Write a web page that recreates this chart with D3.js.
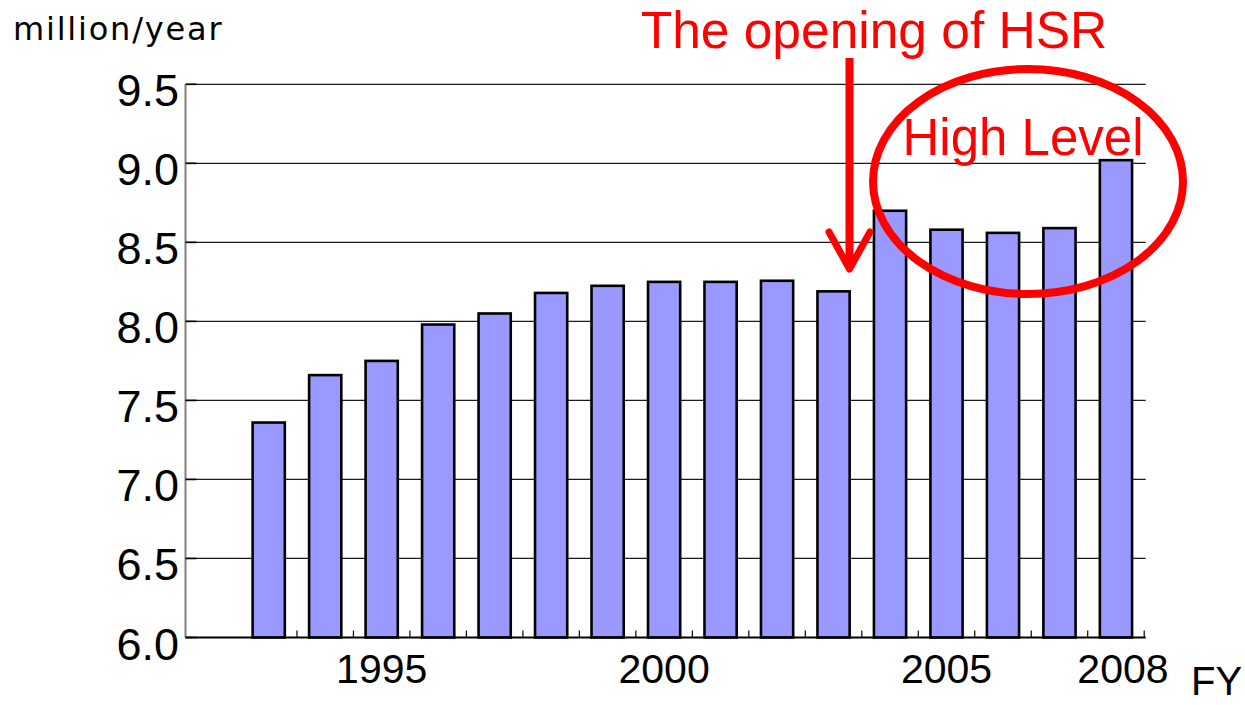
<!DOCTYPE html>
<html>
<head>
<meta charset="utf-8">
<script src="https://cdn.jsdelivr.net/npm/d3@7"></script>
<style>
  html, body { margin: 0; padding: 0; background: #fff; }
  svg { display: block; }
</style>
</head>
<body>
<script>
// ---- data ----
const years = [1993, 1994, 1995, 1996, 1997, 1998, 1999, 2000, 2001, 2002, 2003, 2004, 2005, 2006, 2007, 2008];
const passengers = [7.36, 7.66, 7.75, 7.98, 8.05, 8.18, 8.225, 8.25, 8.25, 8.257, 8.19, 8.70, 8.58, 8.56, 8.59, 9.02];
const yTicks = [6.0, 6.5, 7.0, 7.5, 8.0, 8.5, 9.0, 9.5];
const xLabelYears = [1995, 2000, 2005, 2008];
const yUnit = "million/year";
const xUnit = "FY";
const arrowText = "The opening of HSR";
const circleText = "High Level";

(function () {
const W = 1245, H = 705;
const pLeft = 185.5, pRight = 1145.7, pTop = 84.3, pBottom = 637.5;
const step = (pRight - pLeft) / 17;

const svg = d3.select("body").append("svg").attr("width", W).attr("height", H);

const y = d3.scaleLinear().domain([6, 9.5]).range([pBottom, pTop]);
const x = d3.scaleBand().domain(years).range([pLeft + step - 1.5, pRight - 1.5])
  .paddingInner(0.43).paddingOuter(0.215);

// gridlines
svg.append("g").selectAll("line").data(yTicks.filter(d => d > 6)).join("line")
  .attr("x1", pLeft).attr("x2", pRight)
  .attr("y1", d => y(d)).attr("y2", d => y(d))
  .attr("stroke", "#1a1a1a").attr("stroke-width", 1.2);

// y axis
svg.append("line").attr("x1", pLeft).attr("x2", pLeft).attr("y1", pTop).attr("y2", pBottom)
  .attr("stroke", "#808080").attr("stroke-width", 2);
svg.append("g").selectAll("line").data(yTicks).join("line")
  .attr("x1", pLeft).attr("x2", pLeft + 11)
  .attr("y1", d => y(d)).attr("y2", d => y(d))
  .attr("stroke", "#000").attr("stroke-width", 1.6);

svg.append("g").selectAll("text").data(yTicks).join("text")
  .attr("x", 179).attr("y", d => y(d) + 22)
  .attr("text-anchor", "end")
  .attr("font-family", "Liberation Sans, Arial, sans-serif")
  .attr("font-size", 45).attr("fill", "#000")
  .text(d => d3.format(".1f")(d));

// bars
svg.append("g").selectAll("rect").data(years).join("rect")
  .attr("x", d => x(d))
  .attr("width", x.bandwidth())
  .attr("y", (d, i) => y(passengers[i]))
  .attr("height", (d, i) => pBottom - y(passengers[i]))
  .attr("fill", "#9999ff").attr("stroke", "#000").attr("stroke-width", 2.6);

// x axis
svg.append("line").attr("x1", pLeft).attr("x2", pRight).attr("y1", pBottom).attr("y2", pBottom)
  .attr("stroke", "#000").attr("stroke-width", 2);
const bounds = years.map(d => x(d) + x.bandwidth() + x.step() * x.paddingInner() / 2);
svg.append("g").selectAll("line").data(bounds).join("line")
  .attr("x1", d => d).attr("x2", d => d)
  .attr("y1", pBottom).attr("y2", pBottom - 7)
  .attr("stroke", "#000").attr("stroke-width", 1.2);

svg.append("g").selectAll("text").data(xLabelYears).join("text")
  .attr("x", d => x(d) + x.bandwidth() / 2 + (d === 2008 ? 7 : 0))
  .attr("y", 683)
  .attr("text-anchor", "middle")
  .attr("font-family", "Liberation Sans, Arial, sans-serif")
  .attr("font-size", 41).attr("fill", "#000")
  .text(d => d);

svg.append("text").attr("x", 1191).attr("y", 695)
  .attr("font-family", "Liberation Sans, Arial, sans-serif")
  .attr("font-size", 40).attr("fill", "#000").text(xUnit);

svg.append("text").attr("x", 13).attr("y", 40)
  .attr("font-family", "DejaVu Sans, sans-serif")
  .attr("font-size", 32).attr("letter-spacing", 1.8).attr("fill", "#000").text(yUnit);

// annotations
const red = "#ff0000";
svg.append("text").attr("x", 874).attr("y", 48)
  .attr("text-anchor", "middle")
  .attr("font-family", "Liberation Sans, Arial, sans-serif")
  .attr("font-size", 51.5).attr("fill", red).text(arrowText);

svg.append("line").attr("x1", 849.5).attr("x2", 849.5).attr("y1", 58).attr("y2", 266)
  .attr("stroke", red).attr("stroke-width", 8);
svg.append("polyline").attr("points", "829,232 849.5,269 870,232")
  .attr("fill", "none").attr("stroke", red).attr("stroke-width", 7)
  .attr("stroke-linecap", "round").attr("stroke-linejoin", "round");

svg.append("ellipse").attr("cx", 1028).attr("cy", 181.5).attr("rx", 155).attr("ry", 112.5)
  .attr("fill", "none").attr("stroke", red).attr("stroke-width", 8);

svg.append("text").attr("x", 1023).attr("y", 155)
  .attr("text-anchor", "middle")
  .attr("font-family", "Liberation Sans, Arial, sans-serif")
  .attr("font-size", 51).attr("fill", red).text(circleText);
})();
</script>
</body>
</html>
